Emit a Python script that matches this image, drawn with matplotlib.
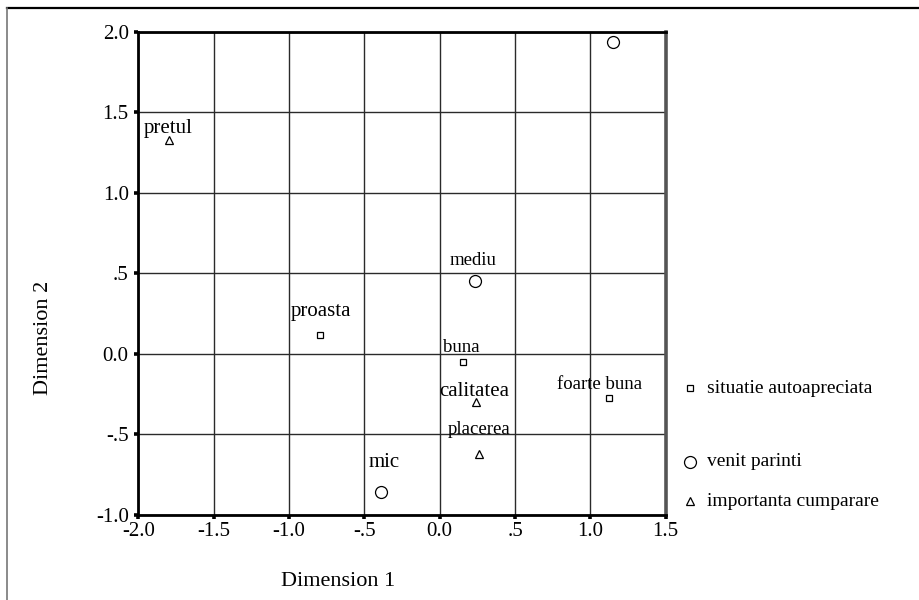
import matplotlib
matplotlib.use("Agg")
import matplotlib.pyplot as plt
from matplotlib.lines import Line2D

# Coordonate din analiza de corespondente (Dimension 1, Dimension 2)
situatie_labels = ["proasta", "buna", "foarte buna"]
situatie_x = [-0.795, 0.157, 1.126]
situatie_y = [0.12, -0.047, -0.275]

venit_labels = ["mic", "mediu", ""]
venit_x = [-0.39, 0.234, 1.153]
venit_y = [-0.86, 0.455, 1.936]

importanta_labels = ["pretul", "calitatea", "placerea"]
importanta_x = [-1.80, 0.239, 0.261]
importanta_y = [1.33, -0.30, -0.62]

series_names = ["situatie autoapreciata", "venit parinti", "importanta cumparare"]

x_ticks = [-2.0, -1.5, -1.0, -0.5, 0.0, 0.5, 1.0, 1.5]
x_ticklabels = ["-2.0", "-1.5", "-1.0", "-.5", "0.0", ".5", "1.0", "1.5"]
y_ticks = [-1.0, -0.5, 0.0, 0.5, 1.0, 1.5, 2.0]
y_ticklabels = ["-1.0", "-.5", "0.0", ".5", "1.0", "1.5", "2.0"]

# asezarea etichetelor fata de punct (pixeli) si marimea fontului
label_place = {
    "pretul": (0, 7, 15), "proasta": (1, 19, 15), "mic": (3, 25, 15),
    "calitatea": (-2, 6, 15), "mediu": (-2, 16, 13.5), "buna": (-2, 10, 13.5),
    "placerea": (0, 20, 13.5), "foarte buna": (-10, 9, 13.5),
}

plt.rcParams["font.family"] = ["Liberation Serif", "DejaVu Serif"]

fig = plt.figure(figsize=(9.2, 6.0), dpi=100)
ax = fig.add_axes([0.1505, 0.1417, 0.5731, 0.805])

styles = [
    dict(marker="s", markersize=4.3),
    dict(marker="o", markersize=8.6),
    dict(marker="^", markersize=5.2),
]
groups = [
    (situatie_x, situatie_y, situatie_labels),
    (venit_x, venit_y, venit_labels),
    (importanta_x, importanta_y, importanta_labels),
]

for (xs, ys, labs), st in zip(groups, styles):
    ax.plot(xs, ys, linestyle="none", markerfacecolor="white",
            markeredgecolor="black", markeredgewidth=0.9, clip_on=False,
            zorder=3, **st)
    for x, y, lab in zip(xs, ys, labs):
        if not lab:
            continue
        dx, dy, fs = label_place[lab]
        ax.annotate(lab, (x, y), xytext=(dx, dy), textcoords="offset pixels",
                    ha="center", va="baseline", fontsize=fs, zorder=4)

ax.set_xlim(-2.0, 1.5)
ax.set_ylim(-1.0, 2.0)
ax.set_xticks(x_ticks)
ax.set_xticklabels(x_ticklabels)
ax.set_yticks(y_ticks)
ax.set_yticklabels(y_ticklabels)
ax.tick_params(direction="out", length=3, width=2.6, labelsize=15,
               color="black")
ax.tick_params(axis="x", pad=2)
ax.tick_params(axis="y", pad=4)

ax.grid(True, color="#2a2a2a", linewidth=1.0)
ax.set_axisbelow(True)
for side in ["left", "bottom", "top"]:
    ax.spines[side].set_linewidth(2.0)
    ax.spines[side].set_color("black")
ax.spines["right"].set_linewidth(2.6)
ax.spines["right"].set_color("#555555")

fig.text(0.368, 0.031, "Dimension 1", fontsize=16, ha="center", va="center")
fig.text(0.047, 0.437, "Dimension 2", fontsize=16, ha="center", va="center",
         rotation=90)

# legenda, cu randurile asezate separat
legend_rows = [0.353, 0.230, 0.165]
for name, st, yy in zip(series_names, styles, legend_rows):
    fig.add_artist(Line2D([0.750], [yy], transform=fig.transFigure,
                          linestyle="none", markerfacecolor="white",
                          markeredgecolor="black", markeredgewidth=0.9, **st))
    fig.text(0.768, yy, name, fontsize=14, ha="left", va="center")

# chenarul exterior
fig.add_artist(Line2D([0.0076, 1.0], [0.987, 0.987], transform=fig.transFigure,
                      color="black", linewidth=1.6))
fig.add_artist(Line2D([0.0076, 0.0076], [0.0, 0.987], transform=fig.transFigure,
                      color="#777777", linewidth=1.2))

fig.savefig("out.png", dpi=100, facecolor="white")
